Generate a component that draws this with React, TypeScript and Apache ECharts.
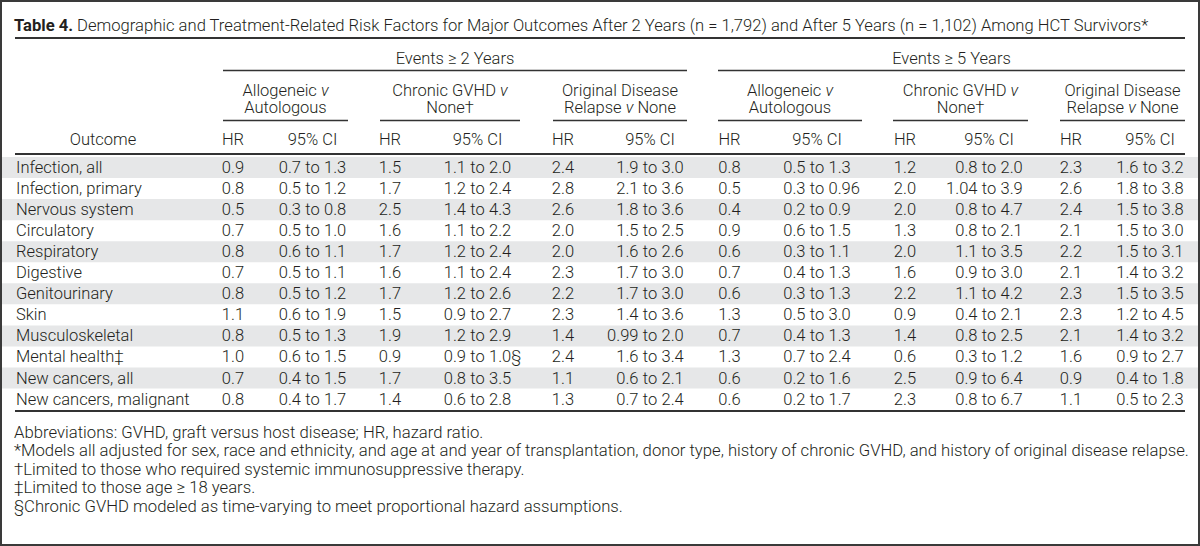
import React, { useEffect, useRef } from "react";
import * as echarts from "echarts";

// ---------- data ----------
const outcomes = [
  "Infection, all",
  "Infection, primary",
  "Nervous system",
  "Circulatory",
  "Respiratory",
  "Digestive",
  "Genitourinary",
  "Skin",
  "Musculoskeletal",
  "Mental health‡",
  "New cancers, all",
  "New cancers, malignant",
];

const hr2Allo = ["0.9", "0.8", "0.5", "0.7", "0.8", "0.7", "0.8", "1.1", "0.8", "1.0", "0.7", "0.8"];
const ci2Allo = ["0.7 to 1.3", "0.5 to 1.2", "0.3 to 0.8", "0.5 to 1.0", "0.6 to 1.1", "0.5 to 1.1", "0.5 to 1.2", "0.6 to 1.9", "0.5 to 1.3", "0.6 to 1.5", "0.4 to 1.5", "0.4 to 1.7"];
const hr2Gvhd = ["1.5", "1.7", "2.5", "1.6", "1.7", "1.6", "1.7", "1.5", "1.9", "0.9", "1.7", "1.4"];
const ci2Gvhd = ["1.1 to 2.0", "1.2 to 2.4", "1.4 to 4.3", "1.1 to 2.2", "1.2 to 2.4", "1.1 to 2.4", "1.2 to 2.6", "0.9 to 2.7", "1.2 to 2.9", "0.9 to 1.0§", "0.8 to 3.5", "0.6 to 2.8"];
const hr2Rel = ["2.4", "2.8", "2.6", "2.0", "2.0", "2.3", "2.2", "2.3", "1.4", "2.4", "1.1", "1.3"];
const ci2Rel = ["1.9 to 3.0", "2.1 to 3.6", "1.8 to 3.6", "1.5 to 2.5", "1.6 to 2.6", "1.7 to 3.0", "1.7 to 3.0", "1.4 to 3.6", "0.99 to 2.0", "1.6 to 3.4", "0.6 to 2.1", "0.7 to 2.4"];
const hr5Allo = ["0.8", "0.5", "0.4", "0.9", "0.6", "0.7", "0.6", "1.3", "0.7", "1.3", "0.6", "0.6"];
const ci5Allo = ["0.5 to 1.3", "0.3 to 0.96", "0.2 to 0.9", "0.6 to 1.5", "0.3 to 1.1", "0.4 to 1.3", "0.3 to 1.3", "0.5 to 3.0", "0.4 to 1.3", "0.7 to 2.4", "0.2 to 1.6", "0.2 to 1.7"];
const hr5Gvhd = ["1.2", "2.0", "2.0", "1.3", "2.0", "1.6", "2.2", "0.9", "1.4", "0.6", "2.5", "2.3"];
const ci5Gvhd = ["0.8 to 2.0", "1.04 to 3.9", "0.8 to 4.7", "0.8 to 2.1", "1.1 to 3.5", "0.9 to 3.0", "1.1 to 4.2", "0.4 to 2.1", "0.8 to 2.5", "0.3 to 1.2", "0.9 to 6.4", "0.8 to 6.7"];
const hr5Rel = ["2.3", "2.6", "2.4", "2.1", "2.2", "2.1", "2.3", "2.3", "2.1", "1.6", "0.9", "1.1"];
const ci5Rel = ["1.6 to 3.2", "1.8 to 3.8", "1.5 to 3.8", "1.5 to 3.0", "1.5 to 3.1", "1.4 to 3.2", "1.5 to 3.5", "1.2 to 4.5", "1.4 to 3.2", "0.9 to 2.7", "0.4 to 1.8", "0.5 to 2.3"];

const titleBold = "Table 4.";
const titleText =
  "Demographic and Treatment-Related Risk Factors for Major Outcomes After 2 Years (n = 1,792) and After 5 Years (n = 1,102) Among HCT Survivors*";
const periodLabels = ["Events ≥ 2 Years", "Events ≥ 5 Years"];
const groupLine1 = ["Allogeneic {i|v}", "Chronic GVHD {i|v}", "Original Disease"];
const groupLine2 = ["Autologous", "None†", "Relapse {i|v} None"];
const outcomeHeader = "Outcome";
const hrHeader = "HR";
const ciHeader = "95% CI";
const footnotes = [
  "Abbreviations: GVHD, graft versus host disease; HR, hazard ratio.",
  "*Models all adjusted for sex, race and ethnicity, and age at and year of transplantation, donor type, history of chronic GVHD, and history of original disease relapse.",
  "†Limited to those who required systemic immunosuppressive therapy.",
  "‡Limited to those age ≥ 18 years.",
  "§Chronic GVHD modeled as time-varying to meet proportional hazard assumptions.",
];

const hrCols = [hr2Allo, hr2Gvhd, hr2Rel, hr5Allo, hr5Gvhd, hr5Rel];
const ciCols = [ci2Allo, ci2Gvhd, ci2Rel, ci5Allo, ci5Gvhd, ci5Rel];

// ---------- layout ----------
const FONT = "Roboto, 'Helvetica Neue', Arial, sans-serif";
const FS = 16.5;
const FS_TITLE = 16.6;
const FS_FOOT = 16.7;
const FW = 300;
const INK = "#231f20";
const LINE = "#333333";
const BAND = "#e6e7e8";
const TABLE_L = 15;
const TABLE_R = 1185;
const ROW_TOP = 157;
const ROW_H = 21.05;
const TO_OFF = 11.5;

// per column group: HR centre, CI centre, underline start/end
const colLayout = [
  { hr: 233, ci: 312.5, x0: 223, x1: 348 },
  { hr: 390, ci: 477.5, x0: 380, x1: 520 },
  { hr: 563, ci: 650, x0: 553, x1: 687 },
  { hr: 729.5, ci: 817, x0: 718, x1: 862 },
  { hr: 905, ci: 989, x0: 893, x1: 1028 },
  { hr: 1071, ci: 1150, x0: 1060, x1: 1185 },
];
const periodLayout = [
  { x0: 223, x1: 687 },
  { x0: 718, x1: 1185 },
];

const Y = {
  title: 25,
  titleLine: 38,
  period: 58,
  periodLine: 70.5,
  group1: 90,
  group2: 107,
  groupLine: 120.5,
  colHead: 139,
  headLine: 154,
  bottomLine: 411,
  foot0: 432,
  footStep: 18.5,
};

const txt = (text: string, x: number, y: number, align: string, extra: any = {}) => ({
  type: "text",
  style: {
    text,
    x,
    y,
    fill: INK,
    fontSize: FS,
    fontFamily: FONT,
    fontWeight: FW,
    textAlign: align,
    align,
    textVerticalAlign: "middle",
    verticalAlign: "middle",
    ...extra,
  },
});

const richItalic = {
  i: { fontStyle: "italic", fontSize: FS, fontFamily: FONT, fontWeight: FW, fill: INK },
};

const hline = (x0: number, x1: number, y: number, w: number) => ({
  type: "line",
  shape: { x1: x0, y1: y, x2: x1, y2: y },
  style: { stroke: LINE, lineWidth: w },
});

export default function App() {
  const ref = useRef<HTMLDivElement>(null);

  useEffect(() => {
    if (!ref.current) return;
    const chart = echarts.init(ref.current, null, { renderer: "svg" });

    const graphics: any[] = [];
    // title
    graphics.push(
      txt(`{b|${titleBold}} ${titleText}`, 14, Y.title, "left", {
        fontSize: FS_TITLE,
        rich: {
          b: {
            fontSize: FS_TITLE,
            fontFamily: "'Liberation Sans Narrow', 'Roboto', Arial, sans-serif",
            fontWeight: "bold",
            fill: INK,
          },
        },
      })
    );
    graphics.push(hline(TABLE_L, TABLE_R, Y.titleLine, 2));
    // period headers
    periodLayout.forEach((p, k) => {
      graphics.push(txt(periodLabels[k], (p.x0 + p.x1) / 2, Y.period, "center"));
      graphics.push(hline(p.x0, p.x1, Y.periodLine, 1.5));
    });
    // group headers
    colLayout.forEach((c, k) => {
      const g = k % 3;
      const cx = (c.x0 + c.x1) / 2;
      graphics.push(txt(groupLine1[g], cx, Y.group1, "center", { rich: richItalic }));
      graphics.push(txt(groupLine2[g], cx, Y.group2, "center", { rich: richItalic }));
      graphics.push(hline(c.x0, c.x1, Y.groupLine, 1.5));
      graphics.push(txt(hrHeader, c.hr, Y.colHead, "center"));
      graphics.push(txt(ciHeader, c.ci, Y.colHead, "center"));
    });
    graphics.push(txt(outcomeHeader, 103, Y.colHead, "center"));
    graphics.push(hline(TABLE_L, TABLE_R, Y.headLine, 2));
    graphics.push(hline(TABLE_L, TABLE_R, Y.bottomLine, 2));
    footnotes.forEach((f, k) => {
      graphics.push(txt(f, 14, Y.foot0 + k * Y.footStep, "left", { fontSize: FS_FOOT }));
    });
    // frame
    graphics.push({
      type: "rect",
      z: 100,
      shape: { x: 1, y: 1, width: 1198, height: 544 },
      style: { fill: "none", stroke: "#3a3a3a", lineWidth: 2 },
    });

    chart.setOption({
      animation: false,
      backgroundColor: "#ffffff",
      grid: { left: 0, right: 0, top: ROW_TOP, height: ROW_H * outcomes.length, containLabel: false },
      xAxis: { type: "value", min: 0, max: 1200, show: false },
      yAxis: { type: "category", data: outcomes, inverse: true, show: false },
      graphic: { elements: graphics },
      series: [
        {
          type: "custom",
          data: outcomes.map((_, i) => [0, i]),
          encode: { x: 0, y: 1 },
          renderItem: (params: any, api: any) => {
            const i = api.value(1);
            const pt = api.coord([0, i]);
            const yc = pt[1];
            const h = api.size([0, 1])[1];
            const children: any[] = [];
            if (i % 2 === 0) {
              children.push({
                type: "rect",
                shape: { x: 2, y: yc - h / 2, width: 1196, height: h },
                style: { fill: BAND },
              });
            }
            children.push(txt(outcomes[i], 16, yc, "left"));
            colLayout.forEach((c, k) => {
              children.push(txt(hrCols[k][i], c.hr, yc, "center"));
              const parts = ciCols[k][i].split(" to ");
              children.push(txt(parts[0], c.ci - TO_OFF, yc, "right"));
              children.push(txt("to", c.ci, yc, "center"));
              children.push(txt(parts[1], c.ci + TO_OFF, yc, "left"));
            });
            return { type: "group", children };
          },
        },
      ],
    });

    return () => chart.dispose();
  }, []);

  return (
    <div
      ref={ref}
      style={{ position: "fixed", left: 0, top: 0, width: 1200, height: 546, background: "#fff" }}
    />
  );
}
